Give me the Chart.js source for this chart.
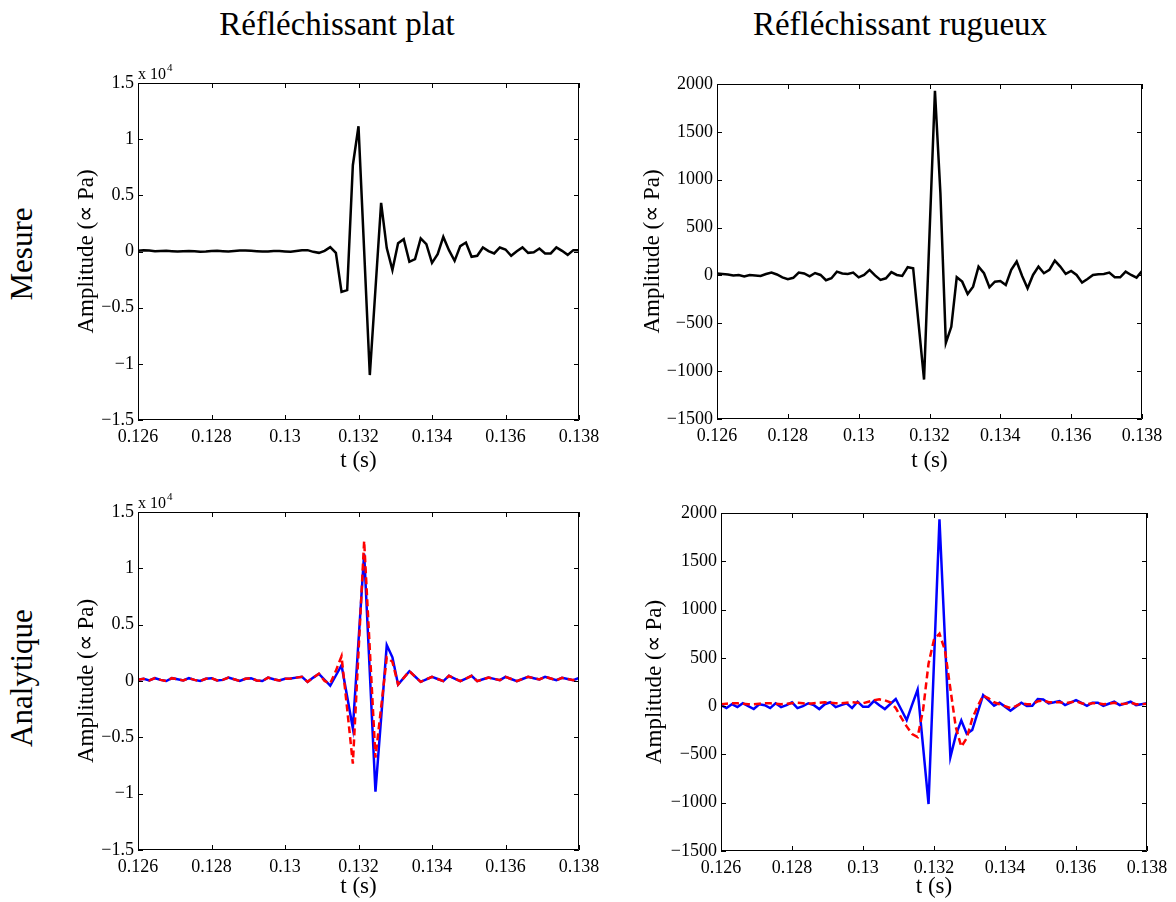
<!DOCTYPE html>
<html>
<head>
<meta charset="utf-8">
<script src="https://cdn.jsdelivr.net/npm/chart.js@4.4.1/dist/chart.umd.min.js"></script>
<style>
  html, body { margin: 0; padding: 0; background: #fff; }
  #page { position: relative; width: 1176px; height: 902px; overflow: hidden; }
  #page canvas { position: absolute; left: 0; top: 0; }
  .lbl { position: absolute; font-family: 'Liberation Serif', 'Times New Roman', serif; font-size: 31px; color: #000; white-space: nowrap; transform: translate(-50%, -50%); }
  .head { font-size: 33px; }
  .rot { transform: translate(-50%, -50%) rotate(-90deg); }
</style>
</head>
<body>
<div id="page">
  <div class="lbl head" style="left:337px; top:24px;">Réfléchissant plat</div>
  <div class="lbl head" style="left:900px; top:24px;">Réfléchissant rugueux</div>
  <div class="lbl rot" style="left:22px; top:254px;">Mesure</div>
  <div class="lbl rot" style="left:22px; top:678px;">Analytique</div>
  <canvas id="tl" width="1176" height="902"></canvas>
  <canvas id="tr" width="1176" height="902"></canvas>
  <canvas id="bl" width="1176" height="902"></canvas>
  <canvas id="br" width="1176" height="902"></canvas>
</div>
<script>
const serif = "'Liberation Serif', 'Times New Roman', serif";

// tick labels
const xTicks = [0.126, 0.128, 0.13, 0.132, 0.134, 0.136, 0.138];
const yTicksPlat = [-1.5, -1, -0.5, 0, 0.5, 1, 1.5];          // x 10^4 Pa
const yTicksRugueux = [-1500, -1000, -500, 0, 500, 1000, 1500, 2000];

// sampling clock: 79 samples between 0.126 s and 0.138 s
const t0 = 0.126, dt = 0.012 / 78;
const time = [];
for (let i = 0; i < 79; i++) time.push(t0 + i * dt);

// amplitudes (Pa), one value per sample
const mesurePlat = [60, 100, 80, 20, 40, 60, 30, 0, 20, 50, 30, -20, 0, 40, 60, 30, 10, 40, 80, 90,
  60, 30, 0, 10, 50, 40, 0, -30, 40, 120, 120, -30, -120, 60, 390, -120, -3590, -3440, 7680, 11150,
  75, -11000, -3335, 4330, 300, -1650, 740, 1100, -920, -680, 1160, 650, -1010, -240, 1300, 120, -830, 480, 800,
  -470, -380, 360, 30, -175, 360, 180, -380, 30, 360, -120, -60, 270, -175, -175, 360, 60, -300, 120, 120];

const mesureRugueux = [20, 15, 10, 0, 5, -10, 5, 0, -5, 15, 30, 10, -20, -40, -25, 30, 20, -10, 25, 5,
  -50, -30, 40, 20, 15, 30, -20, 5, 58, 0, -47, -30, 34, 5, -5, 86, 75, -506, -1088, 428,
  1930, 862, -704, -537, -19, -65, -194, -117, 92, 23, -124, -65, -58, -100, 58, 145, -5, -134, 5, 92,
  23, 58, 155, 92, 16, 47, 5, -75, -37, 5, 12, 15, 30, -19, -19, 40, 5, -23, 47];

const analPlatBlue = [100, 200, 50, 250, 100, 0, 250, 150, 50, 250, 100, 0, 200, 250, 50, 100, 300, 150, 0, 200,
  250, 50, 0, 300, 150, 50, 200, 222, 300, 370, -74, 300, 640, 110, -420, 490, 1405, -1400, -4200, 3550,
  11300, 735, -9830, -3320, 3190, 2100, -310, 280, 870, 400, -74, 150, 370, 180, -15, 460, 220, -15, 220, 460,
  -15, 150, 311, 190, 74, 370, 180, -15, 180, 370, 250, 133, 370, 220, 74, 282, 180, 74, 282];

const analPlatRed = [100, 200, 50, 250, 100, 0, 250, 150, 50, 250, 100, 0, 200, 250, 50, 100, 300, 150, 0, 200,
  250, 50, 0, 300, 150, 50, 200, 222, 300, 370, -74, 300, 640, 0, -222, 900, 2200, -2500, -7340, 2545,
  12430, 2800, -6800, -2350, 2100, 1700, -310, 280, 870, 400, -74, 150, 370, 180, -15, 460, 220, -15, 220, 460,
  -15, 150, 311, 190, 74, 370, 180, -15, 180, 370, 250, 133, 370, 220, 74, 282, 180, 74, 282];

const analRugBlue = [10, -20, 20, -10, 30, 0, -30, 20, 10, -20, 30, -10, 10, 40, -20, 0, 30, 10, -30, 20,
  40, -10, 10, 30, -20, 46, -6, -6, 53, 10, -30, 22, 74, -35, -144, 15, 170, -420, -1014, 460,
  1935, 700, -527, -300, -148, -287, -247, -65, 115, 60, 4, 36, -5, -47, -5, 36, 1, 4, 74, 70,
  29, 40, 53, 11, 37, 63, 33, 4, 36, 36, 4, 25, 46, 11, 28, 46, 11, 20, 29];

const analRugRed = [20, 25, 30, 30, 25, 20, 20, 25, 30, 30, 25, 20, 25, 30, 35, 30, 25, 30, 35, 40,
  35, 30, 30, 35, 40, 35, 30, 46, 60, 70, 60, 40, -20, -120, -210, -290, -320, -40, 440, 690,
  750, 580, 180, -220, -420, -330, -130, 0, 110, 80, 40, 20, 0, -20, 0, 30, 20, 20, 50, 60,
  40, 40, 40, 30, 40, 50, 30, 20, 30, 30, 20, 25, 35, 20, 25, 35, 20, 20, 25];

const pts = vals => vals.map((v, i) => ({ x: time[i], y: v }));
const fmtNum = v => (v < 0 ? '\u2212' : '') + String(Math.abs(v));

// box, inward ticks on all four sides, axis titles, exponent
const frame = {
  id: 'frame',
  afterDatasetsDraw(chart, args, o) {
    const { ctx, chartArea: a, scales: { x, y } } = chart;
    ctx.save();
    ctx.strokeStyle = '#000';
    ctx.lineWidth = 1;
    ctx.beginPath();
    ctx.rect(a.left + 0.5, a.top + 0.5, a.right - a.left - 1, a.bottom - a.top - 1);
    x.ticks.forEach(tk => {
      const px = Math.round(x.getPixelForValue(tk.value)) + 0.5;
      ctx.moveTo(px, a.bottom); ctx.lineTo(px, a.bottom - 5);
      ctx.moveTo(px, a.top); ctx.lineTo(px, a.top + 5);
    });
    y.ticks.forEach(tk => {
      const py = Math.round(y.getPixelForValue(tk.value)) + 0.5;
      ctx.moveTo(a.left, py); ctx.lineTo(a.left + 5, py);
      ctx.moveTo(a.right, py); ctx.lineTo(a.right - 5, py);
    });
    ctx.stroke();

    ctx.fillStyle = '#000';
    ctx.textAlign = 'center';
    ctx.textBaseline = 'middle';
    ctx.font = '23px ' + serif;
    ctx.fillText('t (s)', (a.left + a.right) / 2, a.bottom + o.xTitleOffset);
    ctx.save();
    ctx.translate(o.yTitleX, (a.top + a.bottom) / 2);
    ctx.rotate(-Math.PI / 2);
    ctx.fillText('Amplitude (\u221D Pa)', 0, 0);
    ctx.restore();

    if (o.exponent) {
      ctx.textAlign = 'left';
      ctx.textBaseline = 'alphabetic';
      ctx.font = '16px ' + serif;
      const base = 'x 10';
      ctx.fillText(base, a.left, a.top - 4);
      const w = ctx.measureText(base).width;
      ctx.font = '11px ' + serif;
      ctx.fillText('4', a.left + w + 1, a.top - 12);
    }
    ctx.restore();
  }
};

function panel(id, area, datasets, yTicks, factor, o) {
  const yAxisW = 60, xAxisH = 40;
  const yVals = yTicks.map(v => v * factor);
  new Chart(document.getElementById(id), {
    type: 'line',
    data: { datasets },
    plugins: [frame],
    options: {
      responsive: false,
      animation: false,
      events: [],
      layout: { padding: { left: area.l - yAxisW, top: area.t, right: 1176 - area.r, bottom: 902 - area.b - xAxisH } },
      elements: { point: { radius: 0 }, line: { tension: 0, borderWidth: 2.5, fill: false } },
      plugins: { legend: { display: false }, tooltip: { enabled: false }, frame: o },
      scales: {
        x: {
          type: 'linear', min: 0.126, max: 0.138,
          afterBuildTicks: s => { s.ticks = xTicks.map(v => ({ value: v })); },
          afterFit: s => { s.height = xAxisH; },
          grid: { display: false, drawTicks: false },
          border: { display: false },
          ticks: { padding: 6, autoSkip: false, maxRotation: 0, color: '#000', font: { family: serif, size: 18 }, callback: v => String(v) }
        },
        y: {
          type: 'linear', min: yVals[0], max: yVals[yVals.length - 1],
          afterBuildTicks: s => { s.ticks = yVals.map(v => ({ value: v })); },
          afterFit: s => { s.width = yAxisW; },
          grid: { display: false, drawTicks: false },
          border: { display: false },
          ticks: { padding: 4, color: '#000', font: { family: serif, size: 18 }, callback: v => fmtNum(Math.round(v / factor * 10) / 10) }
        }
      }
    }
  });
}

panel('tl', { l: 138, t: 83, r: 579, b: 420 },
  [{ data: pts(mesurePlat), borderColor: '#000' }],
  yTicksPlat, 1e4, { yTitleX: 87, xTitleOffset: 41, exponent: true });

panel('tr', { l: 717, t: 84, r: 1142, b: 419 },
  [{ data: pts(mesureRugueux), borderColor: '#000' }],
  yTicksRugueux, 1, { yTitleX: 653, xTitleOffset: 42, exponent: false });

panel('bl', { l: 138, t: 512, r: 579, b: 850 },
  [{ data: pts(analPlatRed), borderColor: '#ff0000', borderDash: [7, 4] },
   { data: pts(analPlatBlue), borderColor: '#0000ff' }],
  yTicksPlat, 1e4, { yTitleX: 87, xTitleOffset: 37, exponent: true });

panel('br', { l: 721, t: 513, r: 1147, b: 851 },
  [{ data: pts(analRugRed), borderColor: '#ff0000', borderDash: [7, 4] },
   { data: pts(analRugBlue), borderColor: '#0000ff' }],
  yTicksRugueux, 1, { yTitleX: 655, xTitleOffset: 36, exponent: false });
</script>
</body>
</html>
